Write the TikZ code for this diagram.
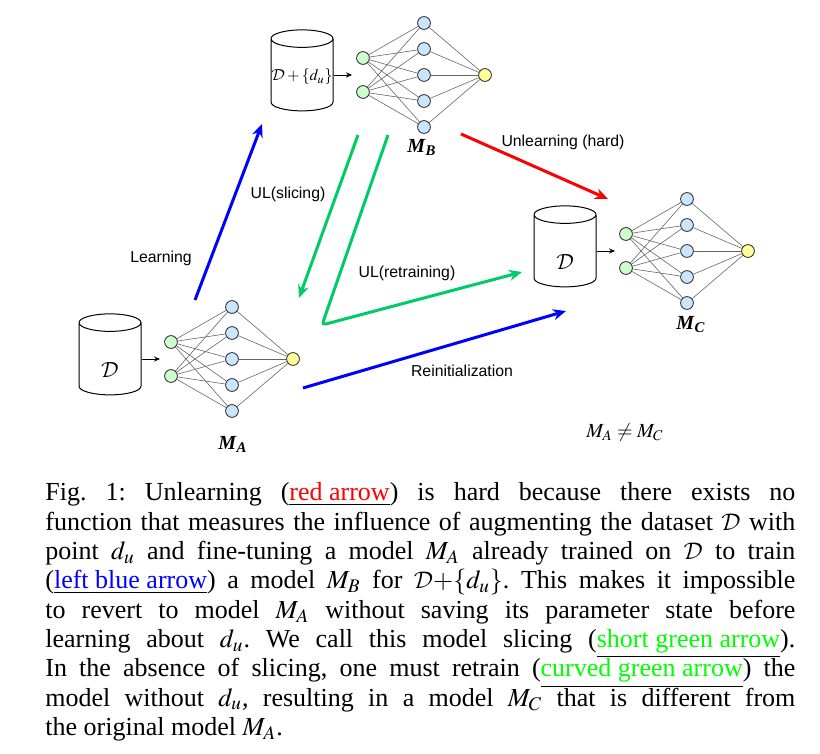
\documentclass[tikz,border=0pt]{standalone}
\usepackage{amsmath}
\usepackage{amssymb}
\usepackage{mathptmx}
\DeclareMathAlphabet{\mathcal}{OMS}{cmsy}{m}{n}
\usepackage[no-math]{fontspec}
\setmainfont{Liberation Serif}
\setsansfont{Liberation Sans}
\usetikzlibrary{shapes.geometric,arrows.meta}

\definecolor{inGreen}{RGB}{204,255,204}
\definecolor{hidBlue}{RGB}{204,229,255}
\definecolor{outYellow}{RGB}{255,255,153}
\definecolor{ulGreen}{RGB}{0,204,102}
\definecolor{capGreen}{RGB}{0,255,0}

\newcommand{\mname}[1]{\textbf{\textit{M}}$_{\textbf{\textit{#1}}}$}

% dataset + small net: #1 name, #2 x of hidden layer, #3 y of middle neuron,
% #4 dataset text, #5 drop of that text
\newcommand{\nnet}[5]{
  \node[db] (#1-db) at (#2-122,#3) {\phantom{$\mathcal{D}$}};
  \node[dbtext] (#1-set) at (#2-122,#3+#5) {#4};
  \coordinate (#1-in) at (#2-72,#3);
  \draw[feed] (#1-db) -- (#1-in);
  \node[inp] (#1-i1) at (#2-61,#3-17) {};
  \node[inp] (#1-i2) at (#2-61,#3+17) {};
  \foreach \k in {1,...,5}
    \node[hid] (#1-h\k) at (#2,#3+26*\k-78) {};
  \node[outp] (#1-o) at (#2+61,#3) {};
  \foreach \k in {1,...,5} {
    \draw[synapse] (#1-i1) -- (#1-h\k);
    \draw[synapse] (#1-i2) -- (#1-h\k);
    \draw[synapse] (#1-h\k) -- (#1-o);
  }
}

\begin{document}
\begin{tikzpicture}[x=0.5pt,y=-0.5pt,
    neuron/.style={circle,draw=black!85,line width=0.4pt,minimum size=6.4pt,inner sep=0pt},
    inp/.style={neuron,fill=inGreen},
    hid/.style={neuron,fill=hidBlue},
    outp/.style={neuron,fill=outYellow},
    synapse/.style={draw=black!60,line width=0.3pt},
    db/.style={cylinder,shape border rotate=90,draw,line width=0.5pt,aspect=1.0,
      minimum width=31pt,minimum height=40.5pt,inner sep=0pt,font=\fontsize{10.5}{12}\selectfont},
    dbtext/.style={inner sep=0pt,font=\fontsize{10.5}{12}\selectfont},
    feed/.style={-{Stealth[length=3pt,width=2.6pt]},line width=0.4pt},
    bigarrow/.style={line width=1.5pt,-{Stealth[length=6.5pt,width=5.5pt]}},
    tag/.style={font=\sffamily\fontsize{7.9}{9}\selectfont},
    model/.style={font=\fontsize{10}{12}\selectfont}]
  \useasboundingbox (0,0) rectangle (820,754);

  % the three models
  \nnet{A}{232}{359}{$\mathcal{D}$}{11}
  \nnet{B}{424}{75}{\fontsize{8}{9}\selectfont$\mathcal{D}+\{d_u\}$}{2}
  \nnet{C}{687}{251}{$\mathcal{D}$}{11}

  \node[model] (lab-A) at (233,444) {\mname{A}};
  \node[model] (lab-B) at (422,147) {\mname{B}};
  \node[model] (lab-C) at (691,325) {\mname{C}};
  \node[model] (neq) at (625,432) {$M_A \neq M_C$};

  % arrows between the models
  \coordinate (learn-s) at (195,300);
  \coordinate (learn-e) at (262,124);
  \coordinate (slice-s) at (358,135);
  \coordinate (slice-e) at (299,298);
  \coordinate (retr-s) at (388,135);
  \coordinate (retr-m) at (322,325);
  \coordinate (retr-e) at (522,272);
  \coordinate (hard-s) at (461,134);
  \coordinate (hard-e) at (608,199);
  \coordinate (reinit-s) at (303,388);
  \coordinate (reinit-e) at (566,311);

  \draw[bigarrow,blue] (learn-s) -- (learn-e);
  \draw[bigarrow,ulGreen] (slice-s) -- (slice-e);
  \draw[bigarrow,ulGreen,rounded corners=2pt] (retr-s) -- (retr-m) -- (retr-e);
  \draw[bigarrow,red] (hard-s) -- (hard-e);
  \draw[bigarrow,blue] (reinit-s) -- (reinit-e);

  \node[tag] (t-learn) at (161,258) {Learning};
  \node[tag] (t-slice) at (288,194) {UL(slicing)};
  \node[tag] (t-retr) at (407,273) {UL(retraining)};
  \node[tag] (t-hard) at (563,142) {Unlearning (hard)};
  \node[tag] (t-reinit) at (462,371) {Reinitialization};

  % caption
  \node[anchor=base west,inner sep=0pt,text width=375pt,align=justify,
    font=\fontsize{13}{14.65}\selectfont] (cap) at (45,501) {\hyphenpenalty=10000\frenchspacing
    Fig.~1: Unlearning (\underline{\textcolor{red}{red arrow}}) is hard because there exists no\linebreak
    function that measures the influence of augmenting the dataset $\mathcal{D}$ with\linebreak
    point $d_u$ and fine-tuning a model $M_A$ already trained on $\mathcal{D}$ to train\linebreak
    (\underline{\textcolor{blue}{left blue arrow}}) a model $M_B$ for $\mathcal{D}{+}\{d_u\}$. This makes it impossible\linebreak
    to revert to model $M_A$ without saving its parameter state before\linebreak
    learning about $d_u$. We call this model slicing (\underline{\textcolor{capGreen}{short green arrow}}).\linebreak
    In the absence of slicing, one must retrain (\underline{\textcolor{capGreen}{curved green arrow}}) the\linebreak
    model without $d_u$, resulting in a model $M_C$ that is different from\linebreak
    the original model $M_A$.};
\end{tikzpicture}
\end{document}
